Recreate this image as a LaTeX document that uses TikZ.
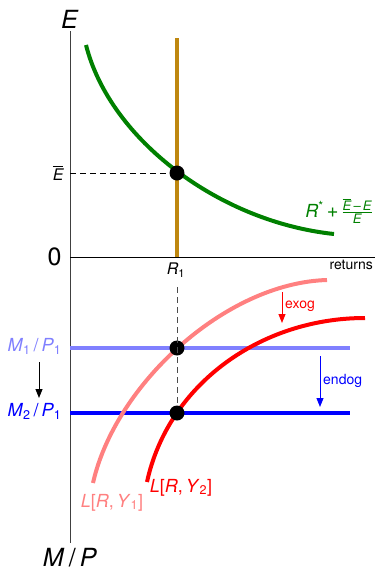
\documentclass[tikz,border=0pt]{standalone}
\usepackage{fontspec}
\setmainfont{TeX Gyre Heros}
\usepackage{amsmath}
\usetikzlibrary{arrows.meta}
\newcommand{\fracfont}{\fontsize{13}{14}\selectfont}

\begin{document}
\begin{tikzpicture}[x=1pt, y=-1pt,
    axis/.style={black!75, line width=1pt},
    guide/.style={dash pattern=on 6pt off 4pt, line width=0.9pt},
    curve/.style={line width=4pt},
    dot/.style={circle, fill=black, inner sep=0pt, minimum size=15pt},
    movearrow/.style={-{Triangle[length=9pt,width=7pt]}, line width=1pt},
    big/.style={font=\fontsize{25}{28}\selectfont},
    mid/.style={font=\fontsize{18}{20}\selectfont},
    small/.style={font=\fontsize{14}{16}\selectfont}]
    \definecolor{curvegreen}{RGB}{0,128,0}
    \definecolor{rgold}{RGB}{190,135,15}
    \definecolor{lightblue}{RGB}{128,128,255}
    \definecolor{lightred}{RGB}{255,128,128}

    \useasboundingbox (0,0) rectangle (375,574);

    % axes
    \coordinate (top) at (70,31);
    \coordinate (bot) at (70,543);
    \coordinate (orig) at (70,257);
    \coordinate (xend) at (375,257);
    \draw[axis] (top) -- (bot);
    \draw[black, line width=1pt] (orig) -- (xend);

    \node[big] (elab) at (70,19) {\textit{E}};
    \node[big] (mplab) at (70,558) {\textit{M}\,/\,\textit{P}};
    \node[big, anchor=east] (zero) at (65,257) {0};
    \node[small, anchor=north east, inner sep=0pt] (retlab) at (373,260) {returns};

    % upper panel
    \coordinate (rtop) at (177,38);
    \coordinate (rbase) at (177,257);
    \draw[curve, rgold] (rtop) -- (rbase);

    \coordinate (gstart) at (86,45);
    \coordinate (gend) at (334,234);
    \draw[curve, curvegreen] (gstart) .. controls (110,140) and (220,222) .. (gend);

    \node[dot] (eq) at (177,173) {};
    \draw[guide] (eq -| orig) -- (eq);
    \node[mid, font=\fontsize{16}{18}\selectfont, anchor=east] (ebar) at (67,173) {$\overline{\text{\itshape E}}$};
    \node[mid, text=curvegreen, anchor=base east, inner sep=0pt] (exlab) at (373,217)
      {\textit{R}\textsuperscript{*}\,{\fontsize{20}{20}\selectfont +}\,$\frac{\overline{\text{\fracfont\itshape E}}\text{\fracfont\,--\,\itshape E}}{\text{\fracfont\itshape E}}$};

    \node[font=\fontsize{16}{18}\selectfont] (rlab) at (176,270) {\textit{R}\textsubscript{1}};

    % lower panel
    \coordinate (m1end) at (350,348);
    \coordinate (m2end) at (350,413);
    \draw[curve, lightblue] (m1end -| orig) -- (m1end);
    \draw[curve, blue] (m2end -| orig) -- (m2end);

    \coordinate (y1start) at (93,483);
    \coordinate (y1end) at (327,280);
    \coordinate (y2start) at (147,482);
    \coordinate (y2end) at (365,318);
    \draw[curve, lightred] (y1start) .. controls (115,385) and (225,283) .. (y1end);
    \draw[curve, red] (y2start) .. controls (168,385) and (260,318) .. (y2end);

    \node[dot] (old) at (177,348) {};
    \node[dot] (new) at (177,413) {};
    \coordinate (gtop) at (177,287);
    \draw[guide, black!70] (gtop) -- (new);

    \node[mid, text=lightblue, anchor=east] (m1lab) at (65,346) {\textit{M}\textsubscript{1}\,/\,\textit{P}\textsubscript{1}};
    \node[mid, text=blue, anchor=east] (m2lab) at (65,411) {\textit{M}\textsubscript{2}\,/\,\textit{P}\textsubscript{1}};
    \draw[movearrow] (39,362) -- (39,398);

    \coordinate (exogtop) at (282,292);
    \coordinate (exogbot) at (282,323);
    \draw[movearrow, red] (exogtop) -- (exogbot);
    \node[small, text=red, anchor=west, inner sep=1pt] (exoglab) at (284,306) {exog};

    \coordinate (endogtop) at (320,356);
    \coordinate (endogbot) at (320,407);
    \draw[movearrow, blue] (endogtop) -- (endogbot);
    \node[small, text=blue, anchor=west, inner sep=1pt] (endoglab) at (322,381) {endog};

    \node[mid, text=lightred, anchor=base] (y1lab) at (112,507) {\textit{L}[\textit{R},\,\textit{Y}\textsubscript{1}]};
    \node[mid, text=red, anchor=base] (y2lab) at (181,492) {\textit{L}[\textit{R},\,\textit{Y}\textsubscript{2}]};
  \end{tikzpicture}
\end{document}
